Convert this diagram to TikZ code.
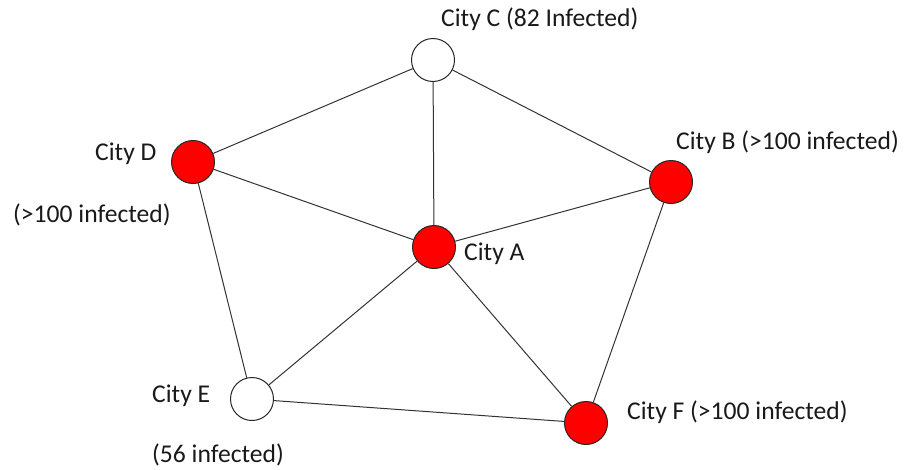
\documentclass[tikz,border=0pt]{standalone}
\usepackage{fontspec}
\setmainfont{Carlito}
\begin{document}
\begin{tikzpicture}[x=1pt,y=-1pt,
  city/.style={circle,draw=black!85,line width=1pt,minimum size=43pt,inner sep=0pt},
  hot/.style={city,fill=red},
  cold/.style={city,fill=white},
  link/.style={draw=black!80,line width=1pt},
  lbl/.style={inner sep=0pt,anchor=west,font=\fontsize{25.6}{28}\selectfont,text=black!90}]
\useasboundingbox (0,0) rectangle (904,469);
\node[cold] (C) at (433,60) {};
\node[hot] (D) at (193,162) {};
\node[hot] (B) at (671,182) {};
\node[hot] (A) at (434,247) {};
\node[cold] (E) at (252,399) {};
\node[hot] (F) at (586,423) {};
\draw[link] (C) -- (D);
\draw[link] (C) -- (A);
\draw[link] (C) -- (B);
\draw[link] (D) -- (A);
\draw[link] (D) -- (E);
\draw[link] (A) -- (B);
\draw[link] (A) -- (E);
\draw[link] (A) -- (F);
\draw[link] (B) -- (F);
\draw[link] (E) -- (F);
\node[lbl] (lC) at (441,19) {City C (82 Infected)};
\node[lbl] (lD) at (95,154) {City D};
\node[lbl] (lD2) at (13,215) {(>100 infected)};
\node[lbl] (lB) at (676,142) {City B (>100 infected)};
\node[lbl] (lA) at (464,254) {City A};
\node[lbl] (lE) at (152,396) {City E};
\node[lbl] (lE2) at (152,455) {(56 infected)};
\node[lbl] (lF) at (627,412) {City F (>100 infected)};
\end{tikzpicture}
\end{document}
